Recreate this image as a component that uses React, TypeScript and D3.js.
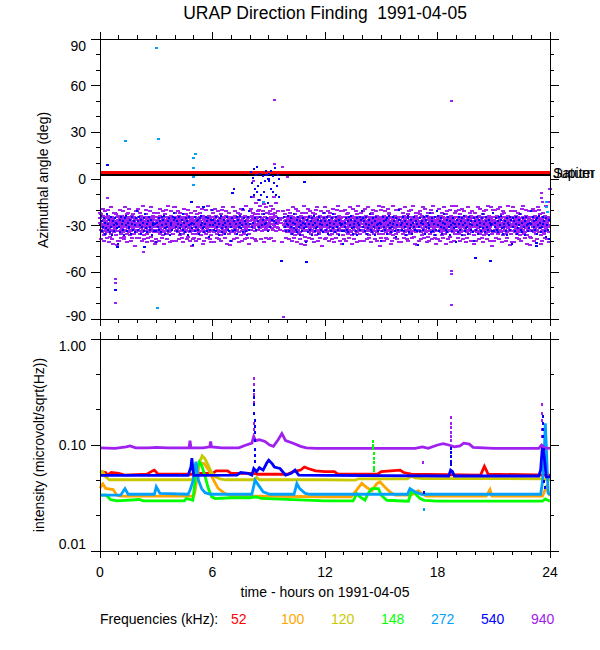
import React from 'react';
import * as d3 from 'd3';

const FONT = "'Liberation Sans', Arial, Helvetica, sans-serif";

const TITLE = 'URAP Direction Finding  1991-04-05';
const X_LABEL = 'time - hours on 1991-04-05';
const Y_LABEL_TOP = 'Azimuthal angle (deg)';
const Y_LABEL_BOTTOM = 'intensity (microvolt/sqrt(Hz))';
const LEGEND_TITLE = 'Frequencies (kHz):';

const HOUR_TICKS = [0, 6, 12, 18, 24];
const ANGLE_TICKS = [90, 60, 30, 0, -30, -60, -90];
const INTENSITY_TICKS = [1, 0.1, 0.01];
const INTENSITY_LABELS = ['1.00', '0.10', '0.01'];

const FREQS = ['52', '100', '120', '148', '272', '540', '940'];
const FREQ_COLORS = ['#ff0000', '#ffa500', '#c8c800', '#00ff00', '#00a0ff', '#0000ff', '#a020f0'];

// reference directions (deg)
const REF_NAMES = ['Saturn', 'Jupiter'];
const REF_ANGLES = [4.3, 2.4];
const REF_COLORS = ['#ff0000', '#000000'];

// azimuth samples, one string per hour; char index d -> angle = 8 - 0.9 * d, '.' = no sample
const CODE = '0123456789abcdefghijklmnopqrstuvwxyzABCDEFGHIJKLMNOPQRSTUVWXYZ';
const PURPLE_BAND = [
  'EBJGyHDLAzKFNCIEGMBHJDAFLEzKGCIOHBEJDMFAGKCHxLEBIFJDNGAHECKzR',
  'GDKBHAEMJCzFIGLDBOHEAJCKGFyMDIBHELAGJCNFDKHBzIEGAMJDFHCLBGEPw',
  'HCFJAKEGDMBIzHFLCEJGANDBKHFyIEGCMAJDHLBFEKGCOIAHDJFBzLGECKHAS',
  'FJDAHLCGEBKIzMFDHAJGECNBLHFDIAyKGEJCMBHFDLAGIEKCzJHBFMDGAEICx',
  'DGBKHEAJFCLGIzBNHDEAKFJGCMHByIEDLAGFJCKHEBOzGDIAFHLCJEBGKDMAQ',
  'JEGAHCKFDBMIyGEJHLCAFDKBNGEIHzAJFCLDGBHEMKAFIJCGDzLHBEAKFNGDv',
  'AHEJCGLBFDKIzHEMAGJDCLFBHKEyNGAIDJFCMHBEGLKAzDFIJCHGEBMDKAFLR',
  'GCKEAJHDFLBIzGMEHADKJCFBLGHEyIANDGKFCJEBMHLAGzDIFKCEJBHGDMAFw',
  'DHAuJCFzGBmEIHyDKqACFGBJwDHEoAIsGCFDKByHEJrCADGIFtBEHCxJ',
  'BGEyDHAsICFJuBDmGHzEAKqCFHDIwEBJC..E...B...GFKDAHEJCGL',
  'HDKBGAELJCzFIHMDBGEAJCLGFyNDIBHEKAGJCMFDLHBzIEGANJDFHCKBGEOAx',
  'EJCGAKHDFBLIzEMGHBDJKCFALGEHyIBNDGJFCKEAMHLBGzDIFJCEKAHGDLBFQ',
  'CGEJBHLAFDKIzGENHADJCKFBMGEIyHAJDGLFCKEBHMJAGzDIFKCEJBHGDNAFw',
  'JDGAHEKCFBLIyHEMAGJDCKFBLHEzNGAIDJFCMHBEGKLAyDFIJCHGEBMDKAFHR',
  'FAJDHCLEGBKIzFMDHAJGECNBKHFDIAyLGEJCMBHFDKAGIELCzJHBFMDGAEICv',
  'GDKBHAEMJCzFIGLDBPHEAJCKGFyMDIBHELAGJCNFDKHBzIEGAMJDFHCLBGEAS',
  'HCFJAKEGDMBIzHFLCEJGANDBKHFyIEGCMAJDHLBFEKGCOIAHDJFBzLGECKHDx',
  'EBJGyHDLAzKFNCIEGMBHJDAFLEzKGCIOHBEJDMFAGKCHxLEBIFJDNGAHECKFQ',
  'DGBKHEAJFCLGIzBNHDEAKFJGCMHByIEDLAGFJCKHEBOzGDIAFHLCJEBGKDMAw',
  'JEGAHCKFDBMIyGEJHLCAFDKBNGEIHzAJFCLDGBHEMKAFIJCGDzLHBEAKFNGDR',
  'AHEJCGLBFDKIzHEMAGJDCLFBHKEyNGAIDJFCMHBEGLKAzDFIJCHGEBMDKAFLv',
  'GCKEAJHDFLBIzGMEHADKJCFBLGHEyIANDGKFCJEBMHLAGzDIFKCEJBHGDMAFS',
  'HDKBGAELJCzFIHMDBGEAJCLGFyNDIBHEKAGJCMFDLHBzIEGANJDFHCKBGEOAw',
  'EJCGAKHDFBLIzEMGHBDJKCFALGEHyIBNDGKFCJEAMHLBGzDIFJCEKAHGpDLBg',
];
// sparser samples on the upper and lower edges of the band
const PURPLE_EDGE = [
  'xQuRwPvStQTxyU',
  'RvPwQtSxuRPyVw',
  'uPxRsQvSPwtRxT',
  'QxRuPwTvQsSwRt',
  'tRwQxPSuyQvRxV',
  'PwRtQxuTRvPsQS',
  'xSuPwQRvtPwTxU',
  'RtQwPxSuRvQsPT',
  'wPxQRyvQwSPx',
  'QwPyRx....SwyP',
  'vQxRtPuSwQTxsU',
  'RuPwQxSvtRPwVx',
  'tPwRxQuSPvsRwT',
  'QvRxPtTuQwSsRx',
  'wRuQtPSxvQwRsV',
  'PtRwQuxTRsPvQS',
  'uSxPtQRwvPsTxU',
  'RwQtPuSxRvQsPT',
  'QuRxPtTwQvSsRx',
  'sPvRuQwSPtxRwT',
  'xRtQuPSwvQsRtV',
  'RvPuQtSwxRPsUw',
  'tSwPxQRusPvTwU',
  'PuRwQtvTRxPsQS',
];
const BLUE_BAND = [
  'GzKDHBMEIyFJCLAHNDGKBEIFT',
  'HCLAFJDNBGzKEIHCMAFJDGLBw',
  'DJAGMCHEKByIFLDAHJCNEGKFS',
  'KEHBJDLAGCzIMFHDKBNEGJACx',
  'BHDKFAMIGCyJELBHDNAGKFIEU',
  'FKAHDJCMBGzEILHFADKBOGJCv',
  'CGJEAKHDNFBzLIGCMEHAJDKFR',
  'HBKgDJFAMCHzEIGuLBDKFNAJw',
  'Fm4Hc8Ek2Bg6Ji0DeoH5AckG7CiyFa3EmBqK',
  'a5Hg3Ci7Dc1kEe6Bm9.......AHDKF',
  'GzKDHBMEIyFJCLAHNDGKBEIFS',
  'HCLAFJDNBGzKEIHCMAFJDGLBx',
  'DJAGMCHEKByIFLDAHJCNEGKFT',
  'KEHBJDLAGCzIMFHDKBNEGJACw',
  'BHDKFAMIGCyJELBHDNAGKFIER',
  'FKAHDJCMBGzEILHFADKBOGJCv',
  'CGJEAKHDNFBzLIGCMEHAJDKFU',
  'HBKEDJFAMCHzEIGxLBDKFNAJw',
  'GzKDHBMEIyFJCLAHNDGKBEIFS',
  'HCLAFJDNBGzKEIHCMAFJDGLBR',
  'DJAGMCHEKByIFLDAHJCNEGKFx',
  'KEHBJDLAGCzIMFHDKBNEGJACT',
  'BHDKFAMIGCyJELBHDNAGKFIEw',
  'FKAHDJCMBGzEILHFADKBOGJCQ',
];

// isolated azimuth points [hour, deg]
const PURPLE_OUT: [number, number][] = [
  [0.39, -12], [0.85, -64.5], [0.85, -66.6], [0.85, -80], [2.3, -46.7], [8.2, -1],
  [9.28, 50.8], [9.33, 9.4], [9.74, 7.7], [10.0, 1], [9.76, -89],
  [18.77, 50], [18.77, -59], [18.77, -61], [18.77, -81], [23.55, -9], [23.55, -12], [23.6, -15],
];
const BLUE_OUT: [number, number][] = [
  [0.39, 9], [0.85, -71.3], [0.94, -44], [2.35, -44], [4.89, -14.6], [5.5, -18], [7.06, -9],
  [8.9, 2.8], [9.0, 0], [9.69, -53], [11.0, -53.5], [10.9, -1.7], [20.0, -51], [20.8, -53],
  [23.3, -41], [23.3, -43],
];
const CYAN_OUT: [number, number][] = [
  [3.02, 84.4], [1.37, 24.6], [3.11, 25.5], [5.07, 15.9], [5.01, 13.3], [5.0, 7.3],
  [4.98, 1.3], [4.98, -4], [3.07, -83], [8.7, -15], [23.8, -14.6], [23.8, -18], [23.85, -21],
];

// intensity series [hour, microvolt/sqrt(Hz)]
const S52: [number, number][] = [
  [0, 0.056], [0.3, 0.055], [0.4, 0.052], [0.6, 0.055], [1.0, 0.054], [1.3, 0.052], [2.5, 0.053],
  [2.8, 0.057], [2.9, 0.058], [3.1, 0.053], [5.0, 0.053], [5.2, 0.054], [6.0, 0.054], [6.2, 0.057],
  [6.8, 0.057], [7.0, 0.054], [8.2, 0.054], [8.4, 0.053], [10.0, 0.053], [10.3, 0.056], [10.7, 0.058],
  [10.9, 0.062], [11.1, 0.06], [11.5, 0.057], [12, 0.056], [12.5, 0.056], [12.7, 0.053], [14.8, 0.053],
  [15.0, 0.056], [15.5, 0.057], [16.0, 0.058], [16.2, 0.055], [16.6, 0.053], [20.3, 0.052],
  [20.5, 0.063], [20.6, 0.058], [20.7, 0.053], [24, 0.052],
];
const S100: [number, number][] = [
  [0, 0.039], [0.15, 0.043], [0.3, 0.039], [0.7, 0.038], [0.9, 0.0336], [1.1, 0.033], [5.0, 0.033],
  [5.05, 0.035], [5.3, 0.068], [5.55, 0.067], [5.8, 0.058], [6.05, 0.047], [6.3, 0.039], [6.65, 0.035],
  [7.0, 0.033], [12, 0.0325], [13.4, 0.0325], [13.6, 0.036], [13.96, 0.0435], [14.2, 0.04], [14.5, 0.037],
  [14.75, 0.043], [14.93, 0.045], [15.2, 0.04], [15.47, 0.036], [15.75, 0.0336], [16.6, 0.0336],
  [16.98, 0.037], [17.15, 0.0348], [17.4, 0.0329], [20.6, 0.0329], [20.8, 0.038], [20.9, 0.033],
  [23.6, 0.033], [23.8, 0.04], [24, 0.033],
];
const S120: [number, number][] = [
  [0, 0.055], [0.15, 0.056], [0.3, 0.05], [0.5, 0.047], [5.15, 0.047], [5.25, 0.06], [5.35, 0.072],
  [5.45, 0.079], [5.6, 0.074], [5.78, 0.064], [5.95, 0.055], [6.15, 0.05], [6.4, 0.048], [6.7, 0.047],
  [8.2, 0.047], [8.35, 0.0494], [8.5, 0.047], [12, 0.047], [13.6, 0.0466], [13.8, 0.048], [16.4, 0.048],
  [16.6, 0.0508], [16.8, 0.049], [17.2, 0.0483], [23.6, 0.048], [23.8, 0.047], [24, 0.047],
];
const S148: [number, number][] = [
  [0, 0.0336], [0.35, 0.0336], [0.55, 0.0306], [0.9, 0.0297], [2.1, 0.0306], [2.3, 0.0297], [4.5, 0.0297],
  [4.6, 0.0313], [4.95, 0.0301], [5.1, 0.05], [5.2, 0.062], [5.3, 0.0695], [5.42, 0.0646], [5.6, 0.0508],
  [5.78, 0.0388], [5.96, 0.0324], [6.15, 0.0313], [7.0, 0.0318], [8.0, 0.0318], [8.35, 0.0324],
  [8.6, 0.0313], [12, 0.0297], [13.5, 0.0297], [13.7, 0.0348], [13.87, 0.0324], [14.13, 0.0301],
  [14.3, 0.0348], [14.5, 0.0388], [14.85, 0.0388], [15.0, 0.0336], [15.3, 0.0301], [16.45, 0.0295],
  [16.6, 0.0361], [16.8, 0.0348], [17.07, 0.0313], [17.3, 0.0301], [18, 0.0295], [23.6, 0.0295],
  [23.75, 0.031], [24, 0.0295],
];
const S272: [number, number][] = [
  [0, 0.0336], [1.1, 0.0336], [1.33, 0.0388], [1.5, 0.0343], [2.9, 0.0343], [3.0, 0.0403], [3.2, 0.0349],
  [4.7, 0.0343], [4.8, 0.0374], [4.95, 0.045], [5.05, 0.06], [5.12, 0.0695], [5.25, 0.0466], [5.42, 0.0388],
  [5.6, 0.0355], [5.9, 0.0343], [8.1, 0.0343], [8.27, 0.0466], [8.45, 0.0418], [8.7, 0.0361],
  [9.05, 0.0343], [10.35, 0.0343], [10.5, 0.0433], [10.65, 0.0388], [10.95, 0.0349], [11.2, 0.0343],
  [16.4, 0.0343], [16.53, 0.0388], [16.8, 0.0361], [17.15, 0.0343], [23.5, 0.0343], [23.6, 0.045],
  [23.7, 0.09], [23.75, 0.16], [23.8, 0.1], [23.85, 0.06], [23.9, 0.035], [24, 0.034],
];
const S540: [number, number][] = [
  [0, 0.0516], [4.7, 0.0516], [4.85, 0.062], [4.9, 0.075], [4.95, 0.06], [5.0, 0.0516], [7.3, 0.052],
  [7.5, 0.055], [7.9, 0.054], [8.1, 0.052], [8.2, 0.06], [8.35, 0.056], [8.5, 0.061], [8.7, 0.058],
  [8.9, 0.068], [9.0, 0.072], [9.2, 0.066], [9.3, 0.062], [9.6, 0.06], [9.9, 0.052], [10.2, 0.054],
  [10.4, 0.058], [10.6, 0.052], [12, 0.0516], [18.6, 0.051], [18.7, 0.058], [18.8, 0.056], [18.9, 0.051],
  [23.4, 0.051], [23.5, 0.058], [23.6, 0.1], [23.7, 0.075], [23.8, 0.05], [24, 0.05],
];
const S940: [number, number][] = [
  [0, 0.094], [0.8, 0.093], [1.4, 0.096], [1.6, 0.098], [1.9, 0.094], [2.6, 0.094], [3.0, 0.095],
  [3.6, 0.094], [4.2, 0.094], [4.75, 0.094], [4.8, 0.11], [4.85, 0.094], [5.5, 0.094], [5.85, 0.096],
  [5.9, 0.108], [5.95, 0.096], [6.5, 0.094], [7.4, 0.094], [7.8, 0.1], [8.1, 0.104], [8.2, 0.12],
  [8.3, 0.11], [8.5, 0.112], [8.8, 0.108], [9.05, 0.1], [9.25, 0.097], [9.5, 0.112], [9.7, 0.128],
  [9.9, 0.11], [10.3, 0.104], [10.7, 0.097], [11.0, 0.094], [11.5, 0.093], [12, 0.093], [16.8, 0.093],
  [17.2, 0.096], [17.5, 0.093], [18.0, 0.1], [18.3, 0.103], [18.6, 0.1], [18.9, 0.096], [19.2, 0.098],
  [19.4, 0.104], [19.7, 0.102], [19.9, 0.095], [21, 0.093], [23.4, 0.093], [23.55, 0.1], [23.7, 0.094],
  [24, 0.093],
];
const SERIES = [S52, S100, S120, S148, S272, S540, S940];

// isolated intensity samples (spikes) [freqIndex, hour, value]
const SPIKES: [number, number, number][] = [
  [6, 8.2, 0.42], [6, 8.2, 0.37], [6, 8.2, 0.3], [6, 8.2, 0.25], [6, 8.2, 0.2], [6, 8.22, 0.16], [6, 8.22, 0.14],
  [5, 8.22, 0.33], [5, 8.22, 0.28], [5, 8.22, 0.24], [5, 8.22, 0.2], [5, 8.24, 0.17], [5, 8.24, 0.15],
  [5, 8.24, 0.13], [5, 8.24, 0.11], [5, 8.24, 0.09], [5, 8.26, 0.08], [5, 8.26, 0.07],
  [6, 18.72, 0.18], [6, 18.72, 0.16], [6, 18.72, 0.145], [6, 18.72, 0.13], [6, 18.72, 0.12], [6, 18.72, 0.11],
  [5, 18.72, 0.093], [5, 18.72, 0.085], [5, 18.72, 0.078], [5, 18.74, 0.07], [5, 18.74, 0.065],
  [6, 23.55, 0.24], [6, 23.55, 0.2], [6, 23.57, 0.17], [6, 23.57, 0.14], [6, 23.57, 0.12],
  [5, 23.62, 0.185], [5, 23.62, 0.16], [5, 23.64, 0.14], [5, 23.64, 0.12], [5, 23.66, 0.09],
  [5, 23.7, 0.045], [5, 23.72, 0.04],
  [3, 14.58, 0.107], [3, 14.58, 0.1], [3, 14.58, 0.092], [3, 14.6, 0.083], [3, 14.6, 0.075],
  [3, 14.6, 0.068], [3, 14.62, 0.062], [3, 14.62, 0.058],
  [6, 17.25, 0.068], [4, 17.3, 0.0246], [5, 17.3, 0.036],
];

const X0 = 100;
const X1 = 550;
const TOP_Y0 = 39;
const TOP_Y1 = 319;
const BOT_Y0 = 339;
const BOT_Y1 = 551;

const xScale = d3.scaleLinear().domain([0, 24]).range([X0, X1]);
const yAng = d3.scaleLinear().domain([-90, 90]).range([TOP_Y1, TOP_Y0]);
const yInt = d3.scaleLog().domain([0.01, 1]).range([BOT_Y1, BOT_Y0]);

const decodeBand = (rows: string[]) => {
  const pts: [number, number][] = [];
  rows.forEach((s, h) => {
    [...s].forEach((ch, k) => {
      const d = CODE.indexOf(ch);
      if (d < 0) return;
      pts.push([h + k / s.length, 8 - 0.9 * d]);
    });
  });
  return pts;
};

interface FrameProps {
  y0: number;
  y1: number;
  yMajor: number[];
  yMinor: number[];
  yPos: (v: number) => number;
}

const Frame: React.FC<FrameProps> = ({ y0, y1, yMajor, yMinor, yPos }) => {
  const hourMinor = d3.range(0, 25, 1);
  return (
    <g stroke="#000" strokeWidth={1} shapeRendering="crispEdges">
      <rect x={X0} y={y0} width={X1 - X0} height={y1 - y0} fill="none" />
      {hourMinor.map((h) => {
        const len = HOUR_TICKS.includes(h) ? 7 : 4;
        const x = xScale(h);
        return (
          <g key={`h${h}`}>
            <line x1={x} x2={x} y1={y0} y2={y0 - len} />
            <line x1={x} x2={x} y1={y1} y2={y1 + len} />
          </g>
        );
      })}
      {yMinor.map((v, i) => {
        const y = yPos(v);
        return (
          <g key={`m${i}`}>
            <line x1={X0} x2={X0 - 4} y1={y} y2={y} />
            <line x1={X1} x2={X1 + 4} y1={y} y2={y} />
          </g>
        );
      })}
      {yMajor.map((v, i) => {
        const y = yPos(v);
        return (
          <g key={`M${i}`}>
            <line x1={X0} x2={X0 - 9} y1={y} y2={y} />
            <line x1={X1} x2={X1 + 9} y1={y} y2={y} />
          </g>
        );
      })}
    </g>
  );
};

export default function App() {
  const purple = decodeBand(PURPLE_BAND).concat(decodeBand(PURPLE_EDGE));
  const blue = decodeBand(BLUE_BAND);
  const line = d3
    .line<[number, number]>()
    .x((d) => xScale(d[0]))
    .y((d) => yInt(d[1]));

  const angleMinor = d3.range(-90, 91, 10);
  const intMinor = d3.range(0, 7).map((k) => Math.pow(10, -k / 3));

  const dot = (p: [number, number], color: string, w: number, key: string) => (
    <rect key={key} x={xScale(p[0]) - w / 2} y={yAng(p[1]) - 1} width={w} height={2} fill={color} />
  );

  return (
    <svg
      width={600}
      height={650}
      style={{ position: 'absolute', left: 0, top: 0, background: '#fff' }}
      fontFamily={FONT}
    >
      <rect width={600} height={650} fill="#fff" />
      <text x={325} y={19} fontSize={17.5} textAnchor="middle" style={{ whiteSpace: 'pre' }}>
        {TITLE}
      </text>

      {/* top panel: azimuth */}
      <g shapeRendering="crispEdges">
        {REF_ANGLES.map((a, i) => (
          <line
            key={`ref${i}`}
            x1={X0}
            x2={X1}
            y1={yAng(a)}
            y2={yAng(a)}
            stroke={REF_COLORS[i]}
            strokeWidth={i === 0 ? 3 : 2}
          />
        ))}
        {purple.map((p, i) => dot(p, FREQ_COLORS[6], 4, `p${i}`))}
        {blue.map((p, i) => dot(p, FREQ_COLORS[5], 2, `b${i}`))}
        {PURPLE_OUT.map((p, i) => dot(p, FREQ_COLORS[6], 3, `po${i}`))}
        {BLUE_OUT.map((p, i) => dot(p, FREQ_COLORS[5], 3, `bo${i}`))}
        {CYAN_OUT.map((p, i) => dot(p, FREQ_COLORS[4], 3, `co${i}`))}
      </g>
      {REF_NAMES.map((n) => (
        <text key={n} x={X1 + 3} y={yAng(REF_ANGLES[0]) + 6} fontSize={14} fill="#000">
          {n}
        </text>
      ))}
      <Frame y0={TOP_Y0} y1={TOP_Y1} yMajor={ANGLE_TICKS} yMinor={angleMinor} yPos={yAng} />
      {ANGLE_TICKS.map((a, i) => (
        <text
          key={`al${a}`}
          x={86}
          y={yAng(a) + 5 + (i === 0 ? 7 : i === ANGLE_TICKS.length - 1 ? -3 : 0)}
          fontSize={14}
          textAnchor="end"
        >
          {a}
        </text>
      ))}
      <text transform={`translate(48,180) rotate(-90)`} fontSize={14} textAnchor="middle">
        {Y_LABEL_TOP}
      </text>

      {/* bottom panel: intensity */}
      <g fill="none" strokeWidth={2.8} strokeLinejoin="miter">
        {SERIES.map((s, i) => (
          <path key={`s${i}`} d={line(s) || ''} stroke={FREQ_COLORS[i]} />
        ))}
      </g>
      <g shapeRendering="crispEdges">
        {SPIKES.map(([f, t, v], i) => (
          <rect key={`sp${i}`} x={xScale(t) - 1} y={yInt(v) - 1.5} width={2} height={3} fill={FREQ_COLORS[f]} />
        ))}
      </g>
      <Frame y0={BOT_Y0} y1={BOT_Y1} yMajor={INTENSITY_TICKS} yMinor={intMinor} yPos={yInt} />
      {INTENSITY_TICKS.map((v, i) => (
        <text
          key={`il${i}`}
          x={86}
          y={yInt(v) + 5 + (i === 0 ? 7 : i === INTENSITY_TICKS.length - 1 ? -7 : 0)}
          fontSize={14}
          textAnchor="end"
        >
          {INTENSITY_LABELS[i]}
        </text>
      ))}
      <text transform={`translate(44,445) rotate(-90)`} fontSize={14} textAnchor="middle">
        {Y_LABEL_BOTTOM}
      </text>

      {HOUR_TICKS.map((h) => (
        <text key={`hl${h}`} x={xScale(h)} y={577} fontSize={14} textAnchor="middle">
          {h}
        </text>
      ))}
      <text x={325} y={597} fontSize={14} textAnchor="middle">
        {X_LABEL}
      </text>

      <text x={100} y={624} fontSize={14}>
        {LEGEND_TITLE}
      </text>
      {FREQS.map((f, i) => (
        <text key={`lg${f}`} x={231 + i * 50} y={624} fontSize={14} fill={FREQ_COLORS[i]}>
          {f}
        </text>
      ))}
    </svg>
  );
}
